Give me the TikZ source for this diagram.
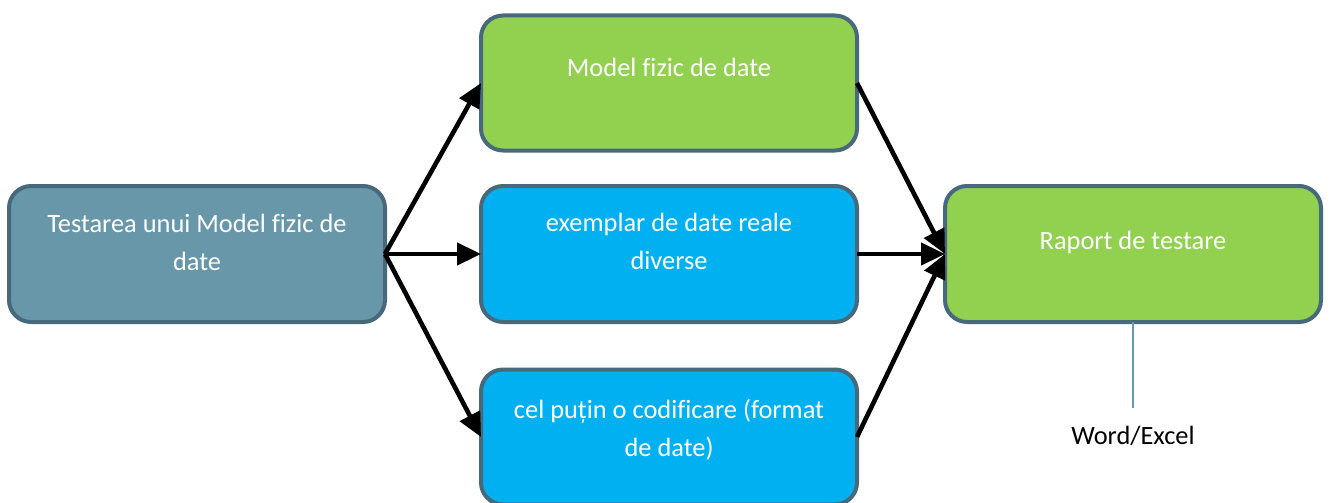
\documentclass[tikz,border=0pt]{standalone}
\usepackage{fontspec}
\setmainfont{Carlito}[Ligatures=NoCommon]
\usetikzlibrary{arrows.meta, positioning}
\definecolor{grisazul}{HTML}{6797A8}
\definecolor{bordeazul}{HTML}{47697B}
\definecolor{verdeclaro}{HTML}{92D050}
\definecolor{cian}{HTML}{00B0F0}
\definecolor{lineaazul}{HTML}{6A98AE}

\begin{document}
\begin{tikzpicture}[
  x=1pt, y=-1pt,
  box/.style={
    rectangle, rounded corners=22pt,
    draw=bordeazul, line width=4pt,
    minimum width=376pt, minimum height=136pt,
    inner sep=0pt, outer sep=0pt
  },
  boxtext/.style={
    text=white, align=center,
    font=\fontsize{26.4}{38}\selectfont
  },
  arr/.style={-{Triangle[length=24pt,width=22pt]}, black, line width=4.6pt}
]
  \useasboundingbox (0,0) rectangle (1331,503);
  \node[box, fill=grisazul, label={[boxtext, yshift=12pt]center:{Testarea unui Model fizic de\\date}}]
    (test) at (197,254) {};
  \node[box, fill=cian, right=96pt of test,
    label={[boxtext, yshift=13pt]center:{exemplar de date reale\\diverse}}] (ejemplar) {};
  \node[box, fill=verdeclaro, minimum height=135pt, above=35.5pt of ejemplar,
    label={[boxtext, yshift=15.5pt]center:{Model fizic de date}}] (modelo) {};
  \node[box, fill=cian, minimum height=135pt, below=47.5pt of ejemplar,
    label={[boxtext, yshift=7pt]center:{cel puțin o codificare (format\\de date)}}] (codif) {};
  \node[box, fill=verdeclaro, right=88pt of ejemplar,
    label={[boxtext, yshift=12pt]center:{Raport de testare}}] (raport) {};
  \draw[arr] (test.east) -- (modelo.west);
  \draw[arr] (test.east) -- (ejemplar.west);
  \draw[arr] (test.east) -- (codif.west);
  \draw[arr] (modelo.east) -- (raport.west);
  \draw[arr] (ejemplar.east) -- (raport.west);
  \draw[arr] (codif.east) -- (raport.west);
  % nota bajo el informe
  \coordinate (finlinea) at (1133,408);
  \draw[lineaazul, line width=1.5pt] (raport.south) -- (finlinea);
  \node[font=\fontsize{26.4}{38}\selectfont, text=black] (formato) at (1133,436) {Word/Excel};
\end{tikzpicture}
\end{document}
